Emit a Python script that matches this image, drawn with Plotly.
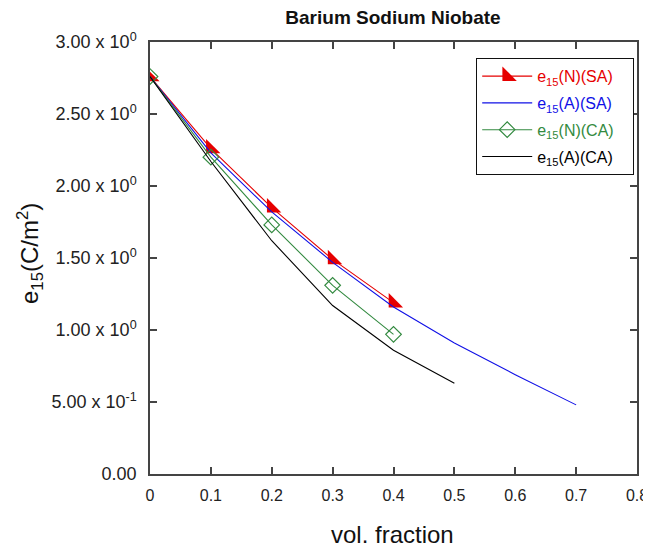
import plotly.graph_objects as go

# Data
x_n = [0.0, 0.1, 0.2, 0.3, 0.4]
e15_n_sa = [2.76, 2.26, 1.85, 1.49, 1.19]
e15_n_ca = [2.76, 2.20, 1.73, 1.31, 0.97]
x_a_sa = [0.0, 0.1, 0.2, 0.3, 0.4, 0.5, 0.6, 0.7]
e15_a_sa = [2.76, 2.23, 1.82, 1.47, 1.16, 0.91, 0.69, 0.48]
x_a_ca = [0.0, 0.1, 0.2, 0.3, 0.4, 0.5]
e15_a_ca = [2.76, 2.17, 1.62, 1.17, 0.86, 0.63]

x_ticks = [0, 0.1, 0.2, 0.3, 0.4, 0.5, 0.6, 0.7, 0.8]
x_ticktext = ["0", "0.1", "0.2", "0.3", "0.4", "0.5", "0.6", "0.7", "0.8"]
y_ticks = [0, 0.5, 1.0, 1.5, 2.0, 2.5, 3.0]
y_ticktext = ["0.00", "5.00 x 10<sup>-1</sup>", "1.00 x 10<sup>0</sup>", "1.50 x 10<sup>0</sup>",
              "2.00 x 10<sup>0</sup>", "2.50 x 10<sup>0</sup>", "3.00 x 10<sup>0</sup>"]

RED = "#e60000"
BLUE = "#1010e6"
GREEN = "#338a40"
BLACK = "#000000"
FONT = "Liberation Sans, Arial"

# page has an 8px body margin: figure coords = page coords - 8
W, H = 643, 539
L, R, T, B = 142, 629, 34, 466  # plot area edges in figure px
PW, PH = R - L, B - T

def lab(txt, color):
    return f'<span style="color:{color}">e<sub>15</sub>{txt}</span>&nbsp;&nbsp;&nbsp;'

fig = go.Figure()
fig.add_trace(go.Scatter(x=x_n, y=e15_n_sa, mode="lines+markers", name=lab("(N)(SA)", RED),
                         legendgroup="g1",
                         line=dict(color=RED, width=1.1),
                         marker=dict(symbol="triangle-sw", size=16, color=RED)))
fig.add_trace(go.Scatter(x=x_a_sa, y=e15_a_sa, mode="lines", name=lab("(A)(SA)", BLUE),
                         legendgroup="g2",
                         line=dict(color=BLUE, width=1.1)))
fig.add_trace(go.Scatter(x=x_n, y=e15_n_ca, mode="lines+markers", name=lab("(N)(CA)", GREEN),
                         legendgroup="g3",
                         line=dict(color=GREEN, width=1.1),
                         marker=dict(symbol="diamond-open", size=12, color=GREEN, line=dict(width=1.2))))
fig.add_trace(go.Scatter(x=x_a_ca, y=e15_a_ca, mode="lines", name=lab("(A)(CA)", BLACK),
                         legendgroup="g4",
                         line=dict(color=BLACK, width=1.1)))

axis_common = dict(showgrid=False, zeroline=False, showline=True, linecolor="#444",
                   linewidth=1.5, ticks="inside", ticklen=7, tickcolor="#444", tickwidth=1.5,
                   mirror="ticks", automargin=False, ticklabeloverflow="allow")

fig.update_layout(
    width=W, height=H,
    margin=dict(l=L, r=W - R, t=T, b=H - B),
    paper_bgcolor="white", plot_bgcolor="white",
    font=dict(family=FONT, color="#111"),
    title=dict(text="<b>Barium Sodium Niobate</b>", x=385 / W, xanchor="center",
               y=1 - 9 / H, yanchor="middle", font=dict(size=19, color="#111")),
    xaxis=dict(range=[0, 0.8], tickvals=x_ticks, ticktext=x_ticktext,
               ticklabelstandoff=6,
               tickfont=dict(family=FONT, size=16, color="#222"),
               **axis_common),
    yaxis=dict(range=[0, 3.0], tickvals=y_ticks, ticktext=y_ticktext,
               ticklabelstandoff=8,
               tickfont=dict(family=FONT, size=18, color="#222"),
               **axis_common),
    legend=dict(x=(468 - L) / PW, y=(B - 50) / PH, xanchor="left", yanchor="top",
                bordercolor="#111", borderwidth=1.2, bgcolor="white",
                font=dict(family=FONT, size=16),
                tracegroupgap=3, itemwidth=50),
    showlegend=True,
    annotations=[
        dict(text="vol. fraction", xref="paper", yref="paper",
             x=(384 - L) / PW, y=(B - 526) / PH, xanchor="center", yanchor="middle",
             showarrow=False, font=dict(size=24, color="#111")),
        dict(text="e<sub>15</sub>(C/m<sup>2</sup>)", xref="paper", yref="paper",
             x=(22 - L) / PW, y=(B - 246) / PH, xanchor="center", yanchor="middle",
             textangle=-90, showarrow=False, font=dict(size=24, color="#111")),
    ],
)

fig.write_html("out.html")
